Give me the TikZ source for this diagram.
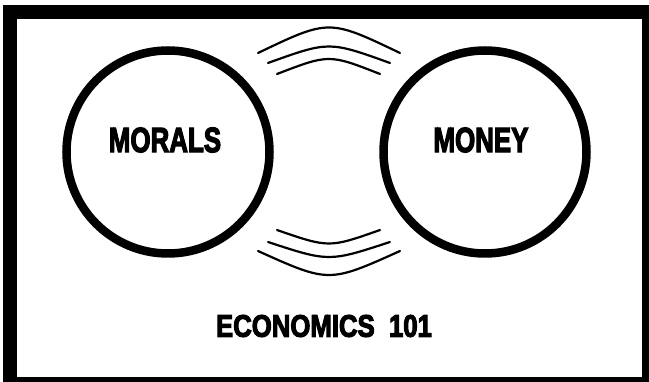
\documentclass[tikz,border=0pt]{standalone}
\usepackage{fontspec}
\setmainfont{Liberation Sans}
\newfontfamily\heavyfont[FakeBold=4]{Liberation Sans Bold}
\usepackage{tikz}
\usetikzlibrary{positioning}

\begin{document}
\begin{tikzpicture}[
  x=1pt, y=-1pt,
  ring/.style={draw, line width=8.5pt, circle, minimum size=203pt, inner sep=0pt},
  word/.style={font=\heavyfont\fontsize{35}{35}\selectfont, xscale=0.74},
  wave/.style={line width=2.2pt, line cap=round}
]
\useasboundingbox (0,0) rectangle (649,382);
% frame
\fill[black] (3,5) rectangle (649,382);
\fill[white] (17,19) rectangle (642,377);
% the two circles
\node[ring] (morals) at (168,152) {};
\node[ring] (money) at (485,152) {};
\node[word] (moralstext) at (165,140) {MORALS};
\node[word] (moneytext) at (481,140) {MONEY};
% waves above and below
\draw[wave] (258,53) .. controls (329,19) .. (400,53);
\draw[wave] (268,63) .. controls (329,41) .. (390,63);
\draw[wave] (277,74) .. controls (329,54) .. (380,74);
\draw[wave] (277,230) .. controls (329,248) .. (380,230);
\draw[wave] (268,242) .. controls (329,262) .. (390,242);
\draw[wave] (258,251) .. controls (329,283) .. (400,251);
\node[font=\heavyfont\fontsize{31}{31}\selectfont, xscale=0.83] (title) at (324,326) {ECONOMICS\ \ 101};
\end{tikzpicture}
\end{document}
